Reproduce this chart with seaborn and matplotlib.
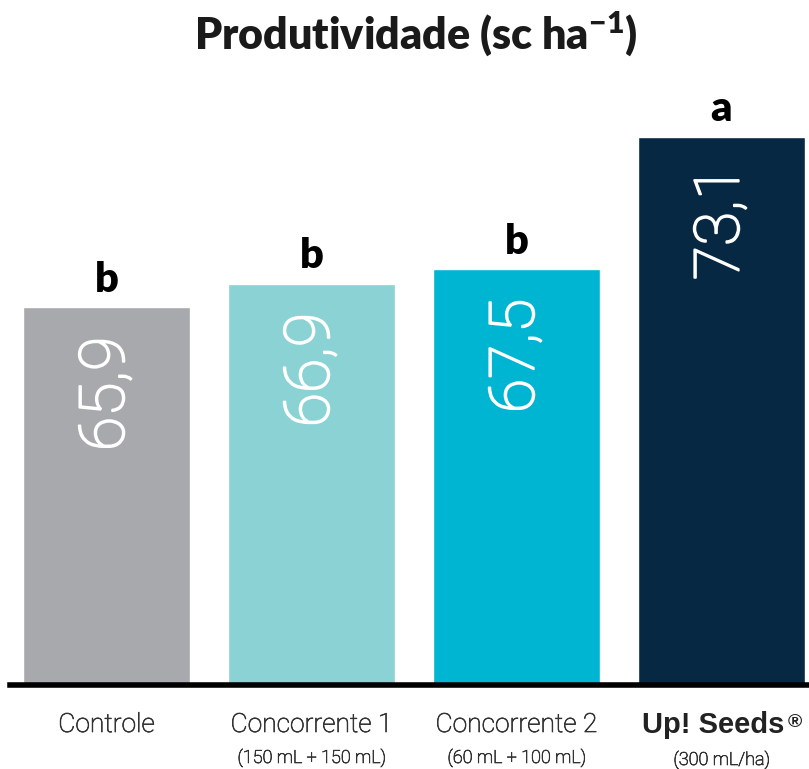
import matplotlib.pyplot as plt
import matplotlib.patheffects as pe
import matplotlib.transforms as mtransforms
import pandas as pd
import seaborn as sns

sns.set_theme(style="white")
plt.rcParams['font.family'] = ['Roboto', 'DejaVu Sans']
plt.rcParams['mathtext.default'] = 'regular'

# data
categories = ['Controle', 'Concorrente 1', 'Concorrente 2', 'Up! Seeds®']
doses = ['', '(150 mL + 150 mL)', '(60 mL + 100 mL)', '(300 mL/ha)']
values = [65.9, 66.9, 67.5, 73.1]
letters = ['b', 'b', 'b', 'a']
colors = ['#A8A9AD', '#8BD2D5', '#00B5D1', '#062842']

df = pd.DataFrame({'trat': categories, 'prod': values})

fig = plt.figure(figsize=(8.09, 7.69), dpi=100)
ax = fig.add_axes([10 / 809, 84 / 769, 799 / 809, 685 / 769])

sns.barplot(data=df, x='trat', y='prod', hue='trat', palette=colors,
            width=0.815, saturation=1, legend=False, ax=ax)

ax.set_ylim(50, 78.85)
ax.set_xlim(-0.471, 3.427)
sns.despine(ax=ax, left=True)
ax.spines['bottom'].set_linewidth(4)
ax.spines['bottom'].set_color('black')
ax.set_yticks([])
ax.set_xticks([])
ax.set_xlabel('')
ax.set_ylabel('')

# light font, thickened a little
thick_w = [pe.withStroke(linewidth=1.3, foreground='white')]
thick_g = [pe.withStroke(linewidth=0.5, foreground='#333333')]

for i, (v, let) in enumerate(zip(values, letters)):
    # value inside the bar
    ax.annotate(f"{v:.1f}".replace('.', ','), (i, v), xytext=(0, -21),
                textcoords='offset points', rotation=90, ha='center', va='top',
                color='white', fontsize=45, fontweight='light', path_effects=thick_w)
    # significance letter
    ax.annotate(let, (i, v), xytext=(0, 11.5), textcoords='offset points',
                ha='center', va='baseline', color='black', fontsize=30,
                fontweight='heavy', family=['Lato', 'DejaVu Sans'])

# category labels under the axis
trans = mtransforms.blended_transform_factory(ax.transData, fig.transFigure)
for i, (cat, dose) in enumerate(zip(categories, doses)):
    if i == 3:
        ax.text(i - 0.04, 1 - 733 / 769, 'Up! Seeds', transform=trans, ha='center',
                va='baseline', fontsize=21, fontweight='bold', color='#222222',
                family=['Liberation Sans', 'DejaVu Sans'])
        ax.text(i + 0.325, 1 - 727 / 769, '®', transform=trans, ha='left',
                va='baseline', fontsize=14, fontweight='bold', color='#222222',
                family=['Liberation Sans', 'DejaVu Sans'])
        ax.text(i, 1 - 765 / 769, dose, transform=trans, ha='center',
                va='baseline', fontsize=13, fontweight='light', color='#333333',
                path_effects=thick_g)
    else:
        ax.text(i, 1 - 732 / 769, cat, transform=trans, ha='center',
                va='baseline', fontsize=19, fontweight='light', color='#333333',
                path_effects=thick_g)
        if dose:
            ax.text(i, 1 - 763 / 769, dose, transform=trans, ha='center',
                    va='baseline', fontsize=13, fontweight='light', color='#333333',
                    path_effects=thick_g)

fig.text(416 / 809, 1 - 50 / 769, 'Produtividade (sc ha$^{-1}$)', ha='center',
         va='baseline', fontsize=31, fontweight='heavy', color='#1a1a1a',
         family=['Lato', 'DejaVu Sans'])

fig.savefig('out.png', dpi=100)
plt.close(fig)
